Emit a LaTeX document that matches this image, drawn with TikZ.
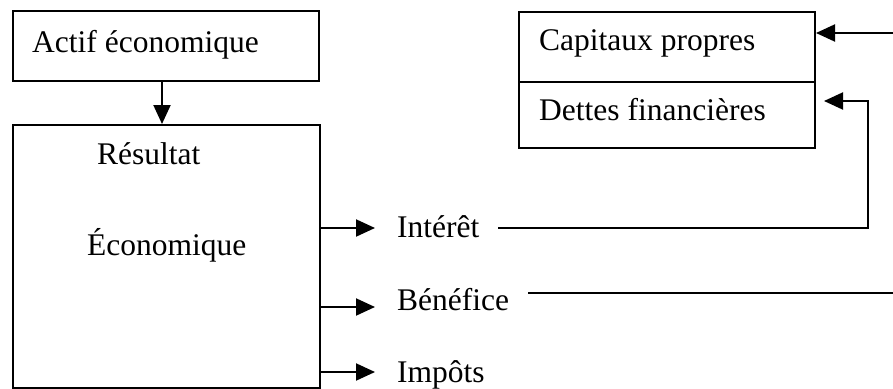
\documentclass[tikz,border=0pt]{standalone}
\usepackage{fontspec}
\setmainfont{Liberation Serif}
\usetikzlibrary{arrows.meta}
\begin{document}
\begin{tikzpicture}[x=1pt,y=-1pt,
  box/.style={draw,line width=2pt,inner sep=0pt,anchor=north west},
  lbl/.style={anchor=base west,inner sep=0pt,font=\fontsize{31.5}{36}\selectfont},
  conn/.style={line width=2pt},
  arr/.style={conn,-{Triangle[length=19pt,width=17pt]}}]
\useasboundingbox (0,0) rectangle (893,388);
% boxes
\node[box,minimum width=306pt,minimum height=70pt] (actif) at (12,10) {};
\node[box,minimum width=307pt,minimum height=263pt] (res) at (12,124) {};
\node[box,minimum width=296pt,minimum height=70pt] (cap) at (518,11) {};
\node[box,minimum width=296pt,minimum height=66pt] (det) at (518,81) {};
% texts
\node[lbl] (tactif) at (32,52) {Actif économique};
\node[lbl] (tres) at (97,164) {Résultat};
\node[lbl] (teco) at (87,255) {Économique};
\node[lbl] (tcap) at (539,50) {Capitaux propres};
\node[lbl] (tdet) at (539,120) {Dettes financières};
\node[lbl] (tint) at (397,237) {Intérêt};
\node[lbl] (tben) at (397,310) {Bénéfice};
\node[lbl] (timp) at (397,382) {Impôts};
% coordinates
\coordinate (a1) at (375,228);
\coordinate (a2) at (375,307);
\coordinate (a3) at (375,372);
\coordinate (capin) at (893,33);
\coordinate (detcorner) at (868,101);
\coordinate (detbot) at (868,228);
\coordinate (intend) at (498,228);
\coordinate (benstart) at (528,293);
\coordinate (benend) at (893,293);
\coordinate (dettip) at (824,101);
% connectors
\draw[arr] (actif.south -| 162,0) -- (res.north -| 162,0);
\draw[arr] (res.east |- a1) -- (a1);
\draw[arr] (res.east |- a2) -- (a2);
\draw[arr] (res.east |- a3) -- (a3);
\draw[arr] (capin) -- (cap.east |- capin);
\draw[arr] (intend) -- (detbot) -- (detcorner) -- (dettip);
\draw[conn] (benstart) -- (benend);
\end{tikzpicture}
\end{document}
